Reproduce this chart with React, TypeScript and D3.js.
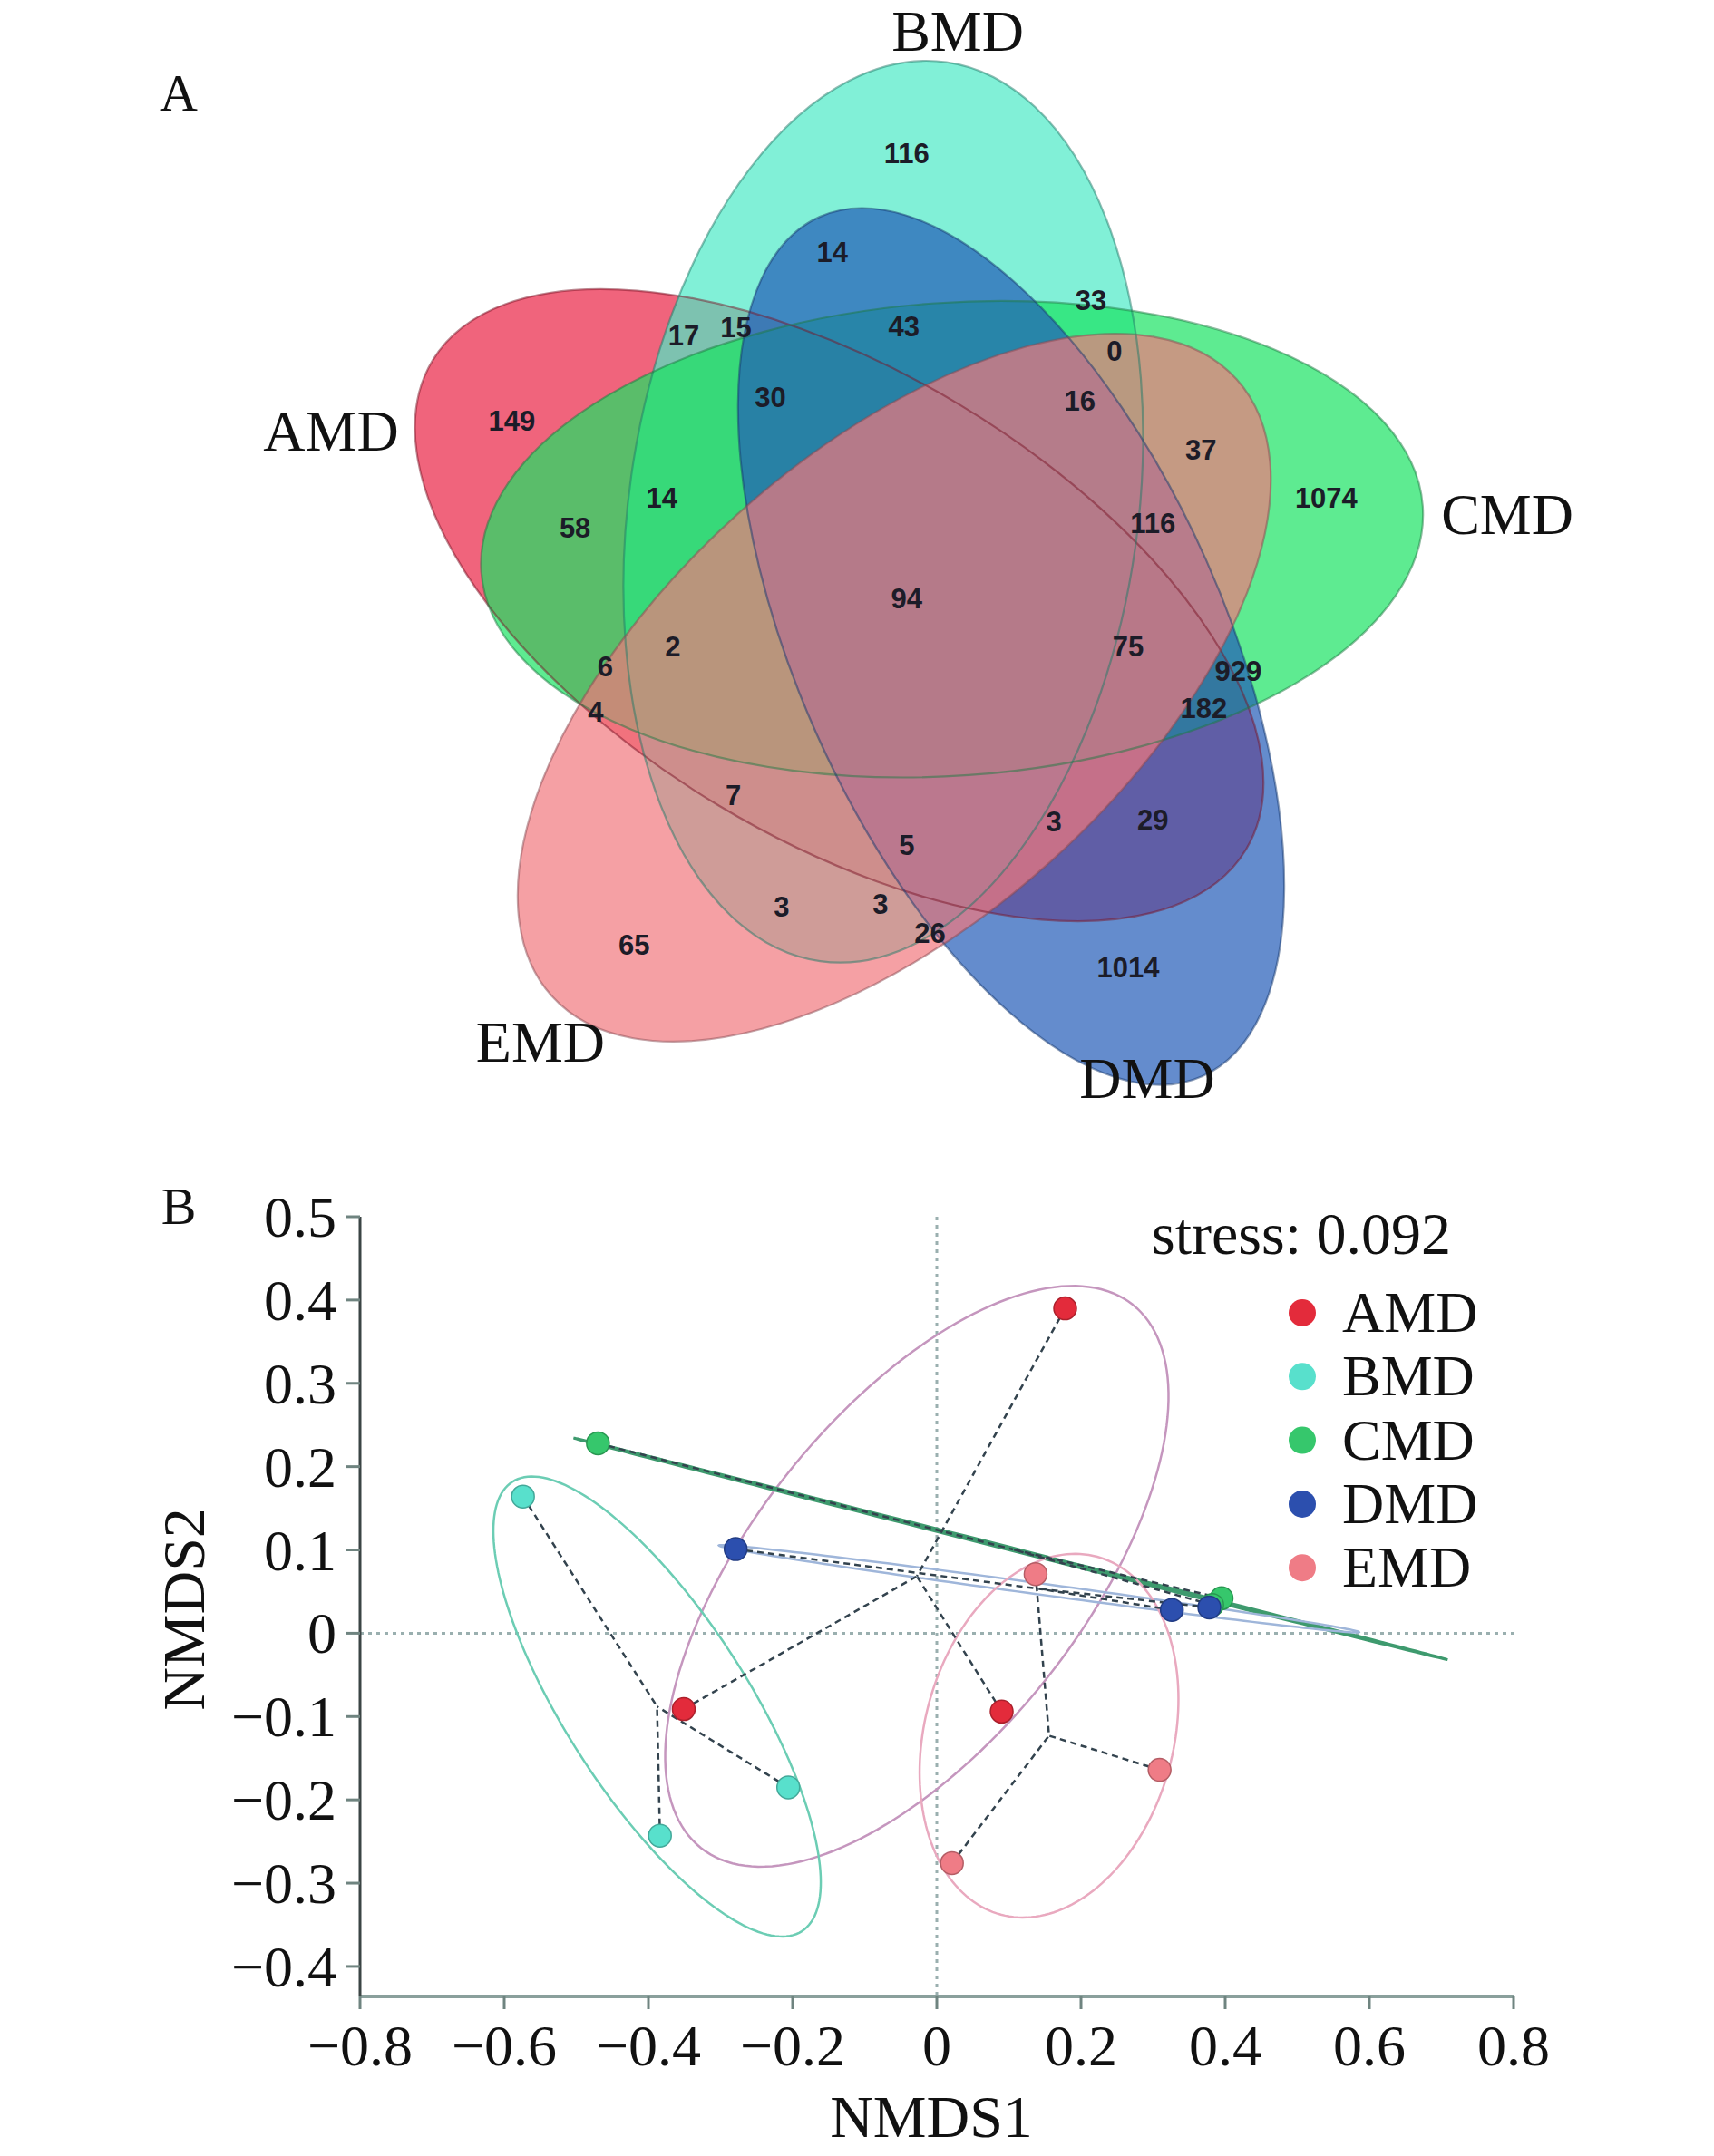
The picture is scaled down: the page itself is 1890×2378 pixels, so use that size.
import { useEffect } from 'react'
import * as d3 from 'd3'

// ---------- panel A: five-set Venn ----------
const vennSets = ['AMD', 'BMD', 'CMD', 'DMD', 'EMD']
const vennFill = ['#EA2245', '#4CEAC6', '#1AE262', '#225BB8', '#F1777E']
const vennEdge = ['#7A1426', '#1F7A68', '#1E7A42', '#16386E', '#8A4A52']

// region counts
const vennCounts = [
  116, 14, 33, 17, 15, 43, 0, 149, 30, 16, 37, 1074, 58, 14, 116, 94,
  2, 75, 929, 6, 182, 4, 7, 3, 29, 5, 3, 3, 26, 65, 1014,
]

// layout (unit square of the venn panel)
const vennShapes = [
  { cx: 0.4378, cy: 0.5562, a: 0.4361, b: 0.2149, rot: 31 },
  { cx: 0.4783, cy: 0.4703, a: 0.4172, b: 0.2339, rot: -82 },
  { cx: 0.5415, cy: 0.4956, a: 0.4336, b: 0.2174, rot: -4 },
  { cx: 0.5958, cy: 0.5942, a: 0.4323, b: 0.196, rot: 66 },
  { cx: 0.4884, cy: 0.6321, a: 0.4235, b: 0.2149, rot: 138 },
]
const vennCountPos: [number, number][] = [
  [0.4998, 0.1403], [0.4315, 0.2313], [0.6692, 0.2756], [0.295, 0.3084],
  [0.343, 0.3009], [0.4972, 0.2996], [0.6907, 0.3224], [0.1369, 0.3869],
  [0.3746, 0.3649], [0.659, 0.3679], [0.7703, 0.4134], [0.8853, 0.4576],
  [0.1951, 0.4845], [0.2747, 0.4576], [0.726, 0.4804], [0.4998, 0.5499],
  [0.2848, 0.5941], [0.7033, 0.5941], [0.8044, 0.6169], [0.2229, 0.6124],
  [0.7728, 0.6511], [0.2141, 0.6542], [0.3405, 0.7307], [0.635, 0.7547],
  [0.726, 0.7534], [0.4998, 0.7762], [0.3848, 0.8331], [0.4758, 0.8306],
  [0.5213, 0.8571], [0.2494, 0.8685], [0.7033, 0.8888],
]
const vennLabelPos: [number, number][] = [
  [-0.0292, 0.4142], [0.5467, 0.0467], [1.0517, 0.4908], [0.7208, 1.0092], [0.1633, 0.9758],
]

// ---------- panel B: NMDS ----------
const groups = ['AMD', 'BMD', 'CMD', 'DMD', 'EMD']
const groupColor = ['#E32B3B', '#58E0CC', '#36C76C', '#2C4FAE', '#EF7C86']
const ellipseColor = ['#C596BE', '#6CCDB4', '#3E9A6E', '#9FB6DA', '#E9A9BF']

const amdPts: [number, number][] = [[0.178, 0.39], [-0.351, -0.091], [0.09, -0.094]]
const bmdPts: [number, number][] = [[-0.574, 0.164], [-0.206, -0.185], [-0.384, -0.243]]
const cmdPts: [number, number][] = [[-0.47, 0.228], [0.395, 0.042], [0.382, 0.034]]
const dmdPts: [number, number][] = [[-0.279, 0.101], [0.326, 0.028], [0.378, 0.031]]
const emdPts: [number, number][] = [[0.137, 0.071], [0.309, -0.164], [0.021, -0.276]]
const groupPts = [amdPts, bmdPts, cmdPts, dmdPts, emdPts]

// conjugate semi-axes of each group ellipse (NMDS units)
const groupEllipse = [
  [0.2995, 0.326, 0.1793, -0.1235],
  [0.2008, -0.2697, -0.106, -0.0591],
  [0.606, -0.133, -0.0005, -0.0016],
  [0.444, -0.052, -0.0011, -0.0066],
  [0.0668, 0.2148, 0.1666, -0.0388],
]

const yTicks = [0.5, 0.4, 0.3, 0.2, 0.1, 0, -0.1, -0.2, -0.3, -0.4]
const xTicks = [-0.8, -0.6, -0.4, -0.2, 0, 0.2, 0.4, 0.6, 0.8]
const stressLabel = 'stress: 0.092'

const serif = '"Liberation Serif", "Times New Roman", serif'
const sans = '"Liberation Sans", Arial, sans-serif'

export default function App() {
  useEffect(() => {
    document.body.style.margin = '0'
  }, [])

  const vx = d3.scaleLinear().domain([0, 1]).range([400, 1600])
  const vy = d3.scaleLinear().domain([0, 1]).range([0, 1200])
  const vlen = (d: number) => vx(d) - vx(0)

  const x = d3.scaleLinear().domain([-0.8, 0.8]).range([397, 1669])
  const y = d3.scaleLinear().domain([-0.436, 0.5]).range([2202, 1342])

  const tickFmt = (d: number) => (Math.abs(d) < 1e-9 ? '0' : d3.format('.1f')(d))
  const line = d3.line<[number, number]>().x(d => x(d[0])).y(d => y(d[1]))
  const closed = d3.line<[number, number]>().x(d => x(d[0])).y(d => y(d[1])).curve(d3.curveLinearClosed)
  const angles = d3.range(0, 360, 2).map(d => (d * Math.PI) / 180)

  const centroids = groupPts.map(pts => [d3.mean(pts, p => p[0])!, d3.mean(pts, p => p[1])!] as [number, number])

  const shapeProps = (s: typeof vennShapes[number]) => ({
    cx: vx(s.cx),
    cy: vy(s.cy),
    rx: vlen(s.a),
    ry: vlen(s.b),
    transform: `rotate(${s.rot} ${vx(s.cx)} ${vy(s.cy)})`,
  })

  return (
    <div style={{ position: 'absolute', left: 0, top: 0 }}>
      <svg width={1890} height={2378} style={{ display: 'block', background: '#fff' }}>
        {/* panel labels */}
        <text x={197} y={122} fontFamily={serif} fontSize={58} textAnchor="middle" fill="#111">A</text>
        <text x={197} y={1350} fontFamily={serif} fontSize={58} textAnchor="middle" fill="#111">B</text>

        {/* Venn ellipses: fills, then outlines */}
        <g>
          {vennShapes.map((s, i) => (
            <ellipse key={`f${vennSets[i]}`} {...shapeProps(s)} fill={vennFill[i]} fillOpacity={0.7} />
          ))}
          {vennShapes.map((s, i) => (
            <ellipse
              key={`s${vennSets[i]}`}
              {...shapeProps(s)}
              fill="none"
              stroke={vennEdge[i]}
              strokeOpacity={0.5}
              strokeWidth={2.2}
            />
          ))}
        </g>
        <g fontFamily={sans} fontWeight="bold" fontSize={31} textAnchor="middle" fill="#1c1c28">
          {vennCounts.map((c, i) => (
            <text key={i} x={vx(vennCountPos[i][0])} y={vy(vennCountPos[i][1])} dy="0.36em">{c}</text>
          ))}
        </g>
        <g fontFamily={serif} fontSize={64} textAnchor="middle" fill="#111">
          {vennSets.map((s, i) => (
            <text key={s} x={vx(vennLabelPos[i][0])} y={vy(vennLabelPos[i][1])}>{s}</text>
          ))}
        </g>

        {/* NMDS: zero reference lines */}
        <line x1={x(-0.8)} x2={x(0.8)} y1={y(0)} y2={y(0)} stroke="#9AAFAF" strokeWidth={3} strokeDasharray="4,5" />
        <line x1={x(0)} x2={x(0)} y1={y(0.5)} y2={y(-0.436)} stroke="#9AAFAF" strokeWidth={3} strokeDasharray="4,5" />

        {/* group ellipses */}
        {groupEllipse.map((e, i) => {
          const c = centroids[i]
          const pts = angles.map(t => [
            c[0] + e[0] * Math.cos(t) + e[2] * Math.sin(t),
            c[1] + e[1] * Math.cos(t) + e[3] * Math.sin(t),
          ] as [number, number])
          return (
            <path key={groups[i]} d={closed(pts) ?? ''} fill="none" stroke={ellipseColor[i]} strokeWidth={i === 2 ? 3 : 2.5} />
          )
        })}

        {/* spider lines */}
        <g stroke="#33434E" strokeWidth={2.5} strokeDasharray="7,5" fill="none">
          {groupPts.map((pts, i) =>
            pts.map((p, j) => <path key={`${i}-${j}`} d={line([p, centroids[i]]) ?? ''} />),
          )}
        </g>

        {/* sample points */}
        {groupPts.map((pts, i) =>
          pts.map((p, j) => (
            <circle key={`p${i}-${j}`} cx={x(p[0])} cy={y(p[1])} r={12.5} fill={groupColor[i]} stroke={d3.color(groupColor[i])!.darker(0.8).formatHex()} strokeWidth={1.5} />
          )),
        )}

        {/* axes */}
        <line x1={x(-0.8)} x2={x(0.8)} y1={y(-0.436)} y2={y(-0.436)} stroke="#8AA09C" strokeWidth={4} />
        <line x1={x(-0.8)} x2={x(-0.8)} y1={y(0.5)} y2={y(-0.436)} stroke="#3B4444" strokeWidth={3} />
        {yTicks.map(t => (
          <g key={`y${t}`}>
            <line x1={x(-0.8) - 16} x2={x(-0.8)} y1={y(t)} y2={y(t)} stroke="#6F8480" strokeWidth={3} />
            <text x={x(-0.8) - 26} y={y(t) + 22} textAnchor="end" fontFamily={serif} fontSize={64} fill="#111">{tickFmt(t)}</text>
          </g>
        ))}
        {xTicks.map(t => (
          <g key={`x${t}`}>
            <line x1={x(t)} x2={x(t)} y1={y(-0.436)} y2={y(-0.436) + 14} stroke="#6F8480" strokeWidth={3} />
            <text x={x(t)} y={2278} textAnchor="middle" fontFamily={serif} fontSize={64} fill="#111">{tickFmt(t)}</text>
          </g>
        ))}
        <text x={1027} y={2357} textAnchor="middle" fontFamily={serif} fontSize={66} fill="#111">NMDS1</text>
        <text transform="translate(225,1775) rotate(-90)" textAnchor="middle" fontFamily={serif} fontSize={66} fill="#111">NMDS2</text>

        {/* stress + legend */}
        <text x={1270} y={1383} fontFamily={serif} fontSize={66} fill="#111">{stressLabel}</text>
        {groups.map((g, i) => (
          <g key={`lg${g}`}>
            <circle cx={1436} cy={1448 + i * 70.3} r={15} fill={groupColor[i]} />
            <text x={1480} y={1448 + i * 70.3 + 21} fontFamily={serif} fontSize={64} fill="#111">{g}</text>
          </g>
        ))}
      </svg>
    </div>
  )
}
